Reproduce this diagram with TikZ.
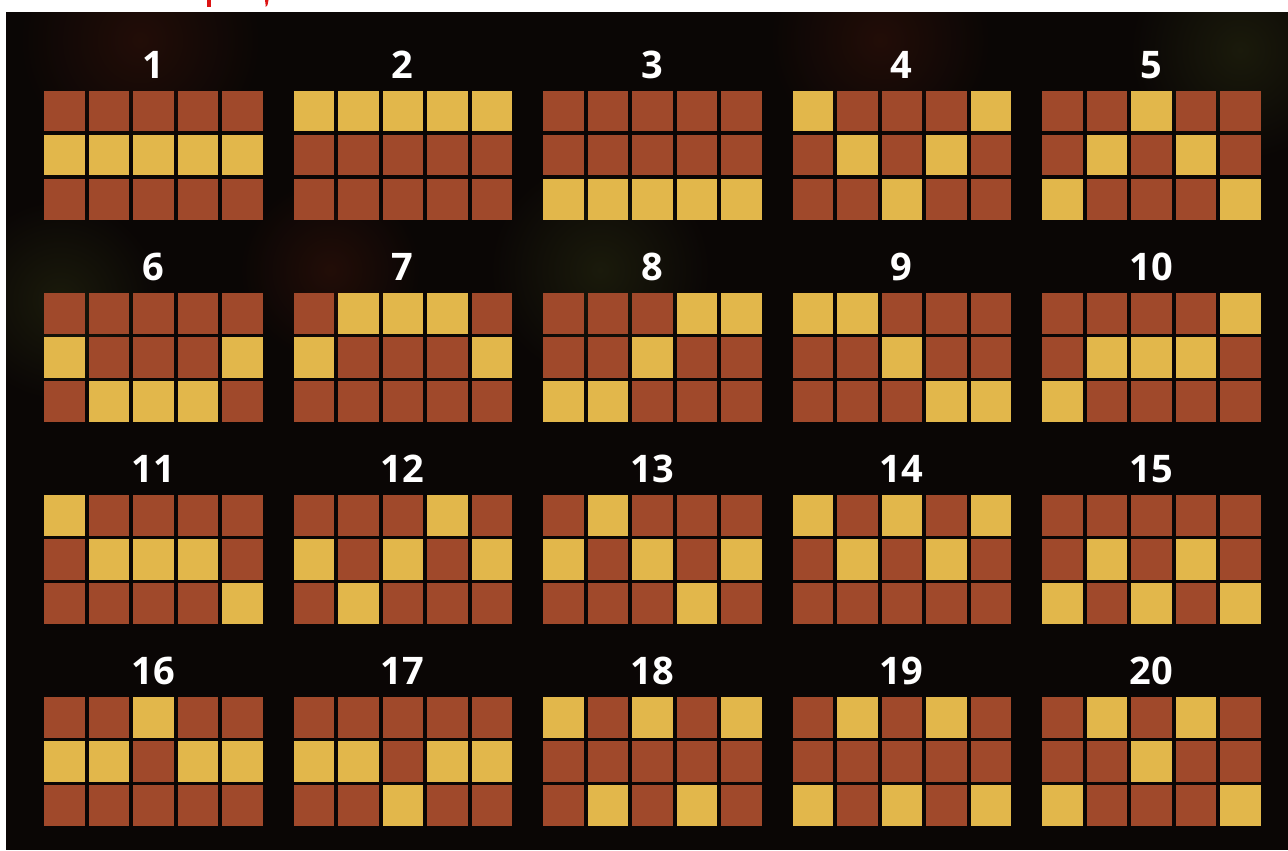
\documentclass[tikz,border=0pt]{standalone}
\usepackage{fontspec}
\setmainfont{Open Sans}
\begin{document}
\begin{tikzpicture}[x=0.5pt,y=-0.5pt,
  bgcol/.style={fill=bgdark},
  cellbrown/.style={fill=cellred},
  cellyellow/.style={fill=cellgold},
  numlabel/.style={text=white,font=\fontsize{19}{20}\selectfont\bfseries,inner sep=0pt,anchor=center}]
\definecolor{bgdark}{RGB}{10,6,5}
\definecolor{cellred}{RGB}{160,73,43}
\definecolor{cellgold}{RGB}{226,183,75}
\definecolor{glowred}{RGB}{34,13,7}
\definecolor{glowgreen}{RGB}{26,26,11}
\definecolor{markred}{RGB}{220,20,20}
\useasboundingbox (0,0) rectangle (1288,850);
\fill[bgcol] (0,0) rectangle (1288,850);
% subtle glows
\begin{scope}
\clip (6,12) rectangle (1288,850);
\shade[inner color=glowred,outer color=bgdark] (140,40) circle[radius=120];
\shade[inner color=glowred,outer color=bgdark] (880,40) circle[radius=110];
\shade[inner color=glowgreen,outer color=bgdark] (1240,50) circle[radius=110];
\shade[inner color=glowgreen,outer color=bgdark] (600,270) circle[radius=110];
\shade[inner color=glowgreen,outer color=bgdark] (60,300) circle[radius=100];
\shade[inner color=glowred,outer color=bgdark] (330,270) circle[radius=90];
\end{scope}
% white page margins above and left of the dark panel
\fill[white] (0,0) rectangle (1288,12);
\fill[white] (0,0) rectangle (6,850);
% cut-off red text fragments at the top
\fill[markred] (207,0) rectangle (210.5,7);
\fill[markred] (265,0) -- (268.5,0) -- (267.5,5) -- (265.5,7) -- (265.5,4) -- cycle;
% the twenty patterns
\foreach \n/\pa/\pb/\pc/\pd/\pe [count=\k from 0] in {
  1/1/1/1/1/1, 2/0/0/0/0/0, 3/2/2/2/2/2, 4/0/1/2/1/0, 5/2/1/0/1/2,
  6/1/2/2/2/1, 7/1/0/0/0/1, 8/2/2/1/0/0, 9/0/0/1/2/2, 10/2/1/1/1/0,
  11/0/1/1/1/2, 12/1/2/1/0/1, 13/1/0/1/2/1, 14/0/1/0/1/0, 15/2/1/2/1/2,
  16/1/1/0/1/1, 17/1/1/2/1/1, 18/0/2/0/2/0, 19/2/0/2/0/2, 20/2/0/1/0/2}{
  \pgfmathsetmacro{\gx}{44+249.5*mod(\k,5)}
  \pgfmathsetmacro{\gy}{91+202*int(\k/5)}
  \node[numlabel] (lbl\n) at ({\gx+109},{\gy-26}) {\n};
  \foreach \cc/\yr in {0/\pa,1/\pb,2/\pc,3/\pd,4/\pe}{
    \foreach \rr in {0,1,2}{
      \pgfmathsetmacro{\cx}{\gx+44.5*\cc}
      \pgfmathsetmacro{\cy}{\gy+44*\rr}
      \ifnum\rr=\yr\relax
        \fill[cellyellow] (\cx,\cy) rectangle ++(40.5,40.5);
      \else
        \fill[cellbrown] (\cx,\cy) rectangle ++(40.5,40.5);
      \fi
    }
  }
}
\end{tikzpicture}
\end{document}
